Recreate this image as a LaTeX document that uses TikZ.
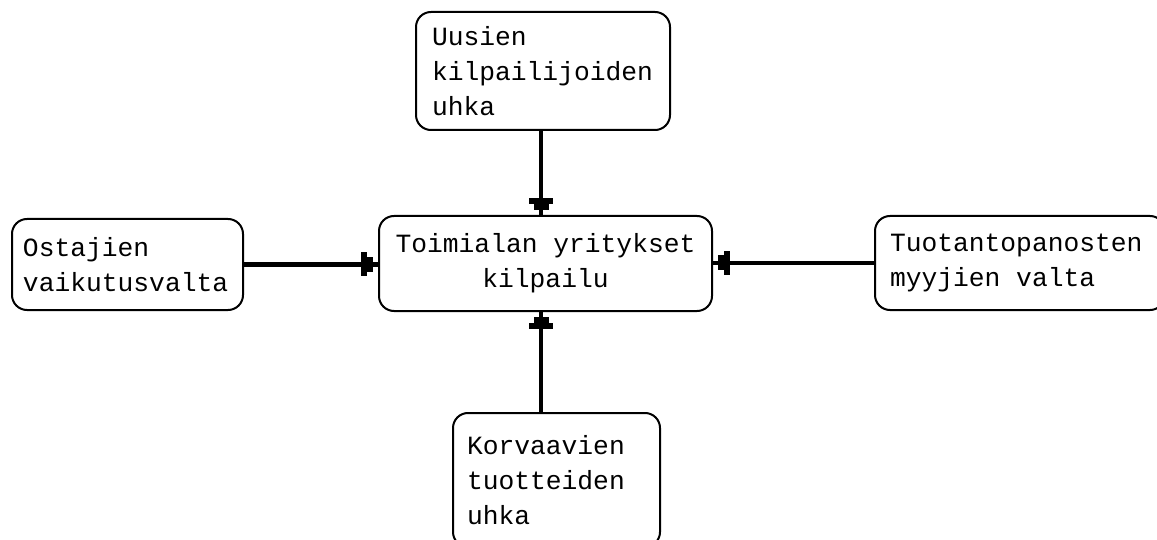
\documentclass[tikz,border=0pt]{standalone}
\usepackage{fontspec}
\usetikzlibrary{arrows.meta,calc}
\newfontfamily\boxfont{Liberation Mono}
% one full character cell between words
\newcommand\cellgap{\hspace{0.6em}}
\begin{document}
\begin{tikzpicture}[x=1pt,y=-1pt,
  force/.style={draw=black,line width=2pt,rounded corners=15pt,
    font=\boxfont\fontsize{26.3}{35}\selectfont,
    align=left,inner ysep=0pt},
  conn/.style={line width=4.5pt,
    -{Rectangle[width=24pt,length=6pt,sep=0pt,line width=0pt]
      Rectangle[width=15pt,length=6pt,sep=0pt,line width=0pt]
      Rectangle[width=4.5pt,length=5pt,sep=0pt,line width=0pt]}}]
  \useasboundingbox (0,0) rectangle (1157,540);
  \clip (0,0) rectangle (1157,540);

  % central box and the four forces around it
  \node[force,align=center,text width=313pt,inner xsep=10pt,minimum height=95pt]
    (core) at (545.5,263.5) {Toimialan\cellgap yritykset\\kilpailu};
  \node[force,text width=222pt,inner xsep=16pt,minimum height=118pt]
    (entrants) at (543,71) {Uusien\\kilpailijoiden\\uhka};
  \node[force,text width=209pt,inner xsep=11pt,minimum height=91pt]
    (buyers) at (127.5,264.5) {Ostajien\\vaikutusvalta};
  \node[force,text width=260pt,inner xsep=15pt,minimum height=94pt]
    (suppliers) at (1020,263) {Tuotantopanosten\\myyjien\cellgap valta};
  \node[force,text width=179pt,inner xsep=14pt,minimum height=134pt]
    (substitutes) at (556.5,480) {Korvaavien\\tuotteiden\\uhka};

  % connectors pointing at the central box
  \coordinate (coreN) at ([xshift=-4.5pt]core.north);
  \coordinate (coreS) at ([xshift=-4.5pt]core.south);
  \draw[conn] (coreN |- entrants.south) -- (coreN);
  \draw[conn] (coreS |- substitutes.north) -- (coreS);
  \draw[conn] (buyers.east) -- (buyers.east -| core.west);
  \draw[conn] (suppliers.west) -- (suppliers.west -| core.east);
\end{tikzpicture}
\end{document}
